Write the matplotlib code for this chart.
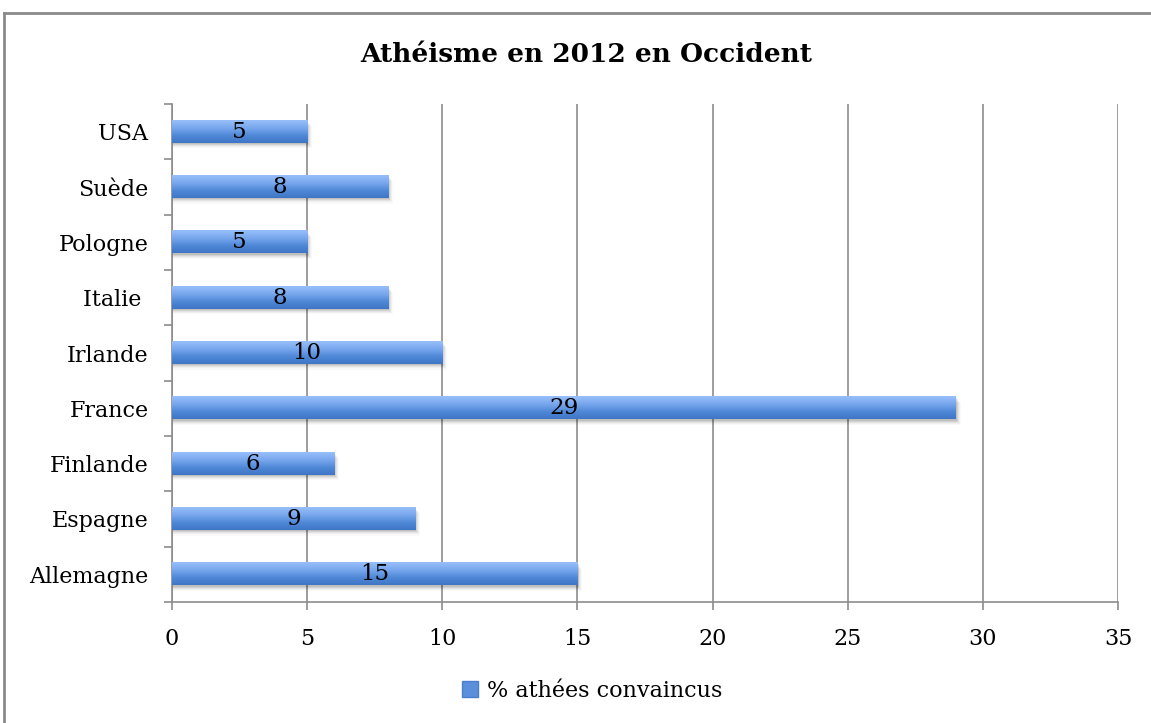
import numpy as np
import matplotlib.pyplot as plt
from matplotlib.patches import Rectangle
from matplotlib.lines import Line2D
from matplotlib.colors import LinearSegmentedColormap

plt.rcParams['font.family'] = ['DejaVu Serif']

# % d'athées convaincus par pays (2012)
pays = ['Allemagne', 'Espagne', 'Finlande', 'France', 'Irlande', 'Italie ', 'Pologne', 'Suède', 'USA']
athees = [15, 9, 6, 29, 10, 8, 5, 8, 5]
xticks = [0, 5, 10, 15, 20, 25, 30, 35]

W, H = 1151, 723
fig = plt.figure(figsize=(W / 100, H / 100), dpi=100)
ax = fig.add_axes([172 / W, 1 - 602 / H, (1118 - 172) / W, (602 - 104) / H])

gris = '#8c8c8c'
degrade = LinearSegmentedColormap.from_list('barre', ['#98bff9', '#79a8ee', '#5089d8', '#3f76c6'])
grad = np.linspace(0, 1, 64).reshape(-1, 1)

y = np.arange(len(pays))
h = 0.4
for yi, v in zip(y, athees):
    # ombre floue sous la barre
    for k, a in enumerate([0.09, 0.07, 0.05, 0.035, 0.025]):
        ax.barh(yi - 0.02 - 0.02 * k, v + 0.04 + 0.035 * k, height=h, color='black',
                alpha=a, linewidth=0, zorder=2)
    ax.barh(yi, v, height=h, color='#5b8fdc', linewidth=0, zorder=3)
    ax.imshow(grad, extent=[0, v, yi - h / 2, yi + h / 2], aspect='auto',
              cmap=degrade, zorder=4, interpolation='bilinear')
    ax.text(v / 2, yi, str(v), ha='center', va='center', fontsize=16.5, color='black', zorder=5)

ax.set_xlim(0, 35)
ax.set_ylim(-0.5, len(pays) - 0.5)
ax.set_aspect('auto')

ax.set_xticks(xticks)
ax.set_yticks(y)
ax.set_yticklabels(pays)
ax.set_yticks(np.arange(-0.5, len(pays), 1), minor=True)
ax.tick_params(axis='y', which='major', length=0, pad=17, labelsize=16)
ax.tick_params(axis='y', which='minor', length=6, width=1.2, color=gris, direction='out')
ax.tick_params(axis='x', length=6, width=1.2, color=gris, direction='out', pad=13, labelsize=16)

ax.xaxis.grid(True, color=gris, linewidth=1.2, zorder=0)
ax.set_axisbelow(True)
for s in ['top', 'right']:
    ax.spines[s].set_visible(False)
for s in ['left', 'bottom']:
    ax.spines[s].set_color(gris)
    ax.spines[s].set_linewidth(1.2)

fig.text(586 / W, 1 - 55 / H, 'Athéisme en 2012 en Occident', ha='center', va='center',
         fontsize=19, fontweight='bold')

poignee = Rectangle((0, 0), 1, 1, facecolor='#5b8fdc', edgecolor='#4a7fcf')
fig.legend([poignee], ['% athées convaincus'], loc='center', frameon=False,
           bbox_to_anchor=(592 / W, 1 - 691 / H), fontsize=16,
           handlelength=0.7, handleheight=0.7, handletextpad=0.4)

# cadre du graphique
fig.add_artist(Line2D([4 / W, 4 / W], [0, 1 - 13 / H], color='#8a8a8a', linewidth=2))
fig.add_artist(Line2D([4 / W, 1], [1 - 13 / H, 1 - 13 / H], color='#8a8a8a', linewidth=2))

fig.savefig('out.png', dpi=100)
